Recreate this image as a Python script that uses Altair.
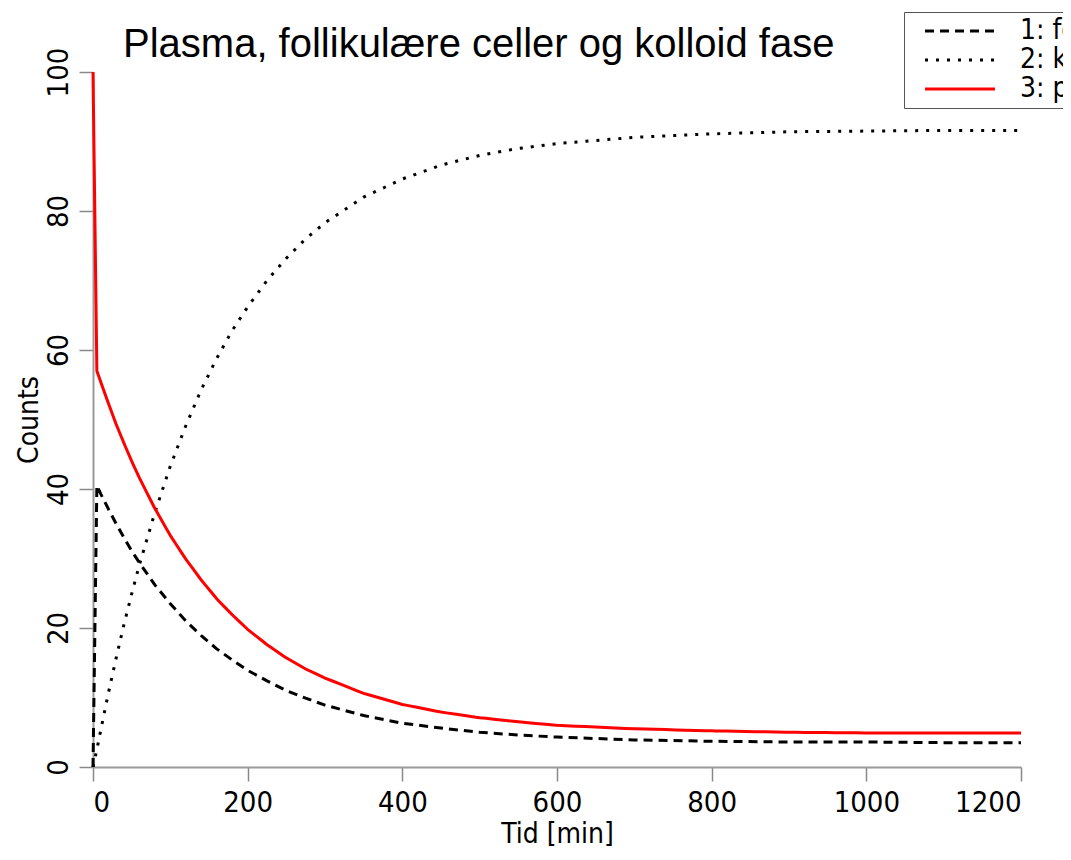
import altair as alt
import pandas as pd

# time points [min]
tid = [0, 5, 10, 20, 30, 40, 50, 60, 80, 100, 120, 140, 160, 180, 200, 225, 250,
       275, 300, 350, 400, 450, 500, 550, 600, 700, 800, 900, 1000, 1100, 1200]
# 1: follikulære celler (dashed)
follikulaere = [0, 40.5, 39.3, 37.1, 35.0, 33.0, 31.1, 29.4, 26.2, 23.5, 21.0, 18.9, 17.0,
                15.4, 13.9, 12.4, 11.0, 9.9, 8.9, 7.4, 6.3, 5.6, 5.0, 4.6, 4.3, 3.9, 3.7,
                3.6, 3.6, 3.5, 3.5]
# 2: kolloid fase (dotted)
kolloid = [0, 2.5, 5.3, 10.7, 15.7, 20.5, 24.9, 29.1, 36.6, 43.3, 49.1, 54.3, 58.8, 62.8,
           66.2, 70.0, 73.2, 76.0, 78.3, 82.0, 84.6, 86.6, 88.0, 89.0, 89.7, 90.6, 91.1,
           91.4, 91.5, 91.6, 91.6]
# 3: plasma (red)
plasma = [100, 57.0, 55.4, 52.3, 49.3, 46.6, 44.0, 41.6, 37.2, 33.3, 29.9, 26.9, 24.2,
          21.9, 19.8, 17.6, 15.7, 14.1, 12.8, 10.6, 9.0, 7.9, 7.1, 6.5, 6.0, 5.5, 5.2,
          5.0, 4.9, 4.9, 4.9]

series_names = ["1: follikulære celler", "2: kolloid fase", "3: plasma"]
series_values = [follikulaere, kolloid, plasma]
series_colors = ["black", "black", "red"]
series_dash = [[9, 6], [3, 8], [10, 0]]

title_text = ["Plasma, follikulære celler og kolloid fase"]
x_ticks = [0, 200, 400, 600, 800, 1000, 1200]
y_ticks = [0, 20, 40, 60, 80, 100]

rows = []
for name, vals in zip(series_names, series_values):
    for t, v in zip(tid, vals):
        rows.append({"Tid": t, "Counts": v, "serie": name})
df = pd.DataFrame(rows)

label_font = "DejaVu Sans Condensed, DejaVu Sans"

lines = alt.Chart(df).mark_line(strokeWidth=3).encode(
    x=alt.X("Tid:Q", title="Tid [min]",
            scale=alt.Scale(domain=[0, 1200], nice=False),
            axis=alt.Axis(values=x_ticks, format="d", titleBaseline="alphabetic",
                          titleY=75)),
    y=alt.Y("Counts:Q", title="Counts",
            scale=alt.Scale(domain=[0, 100], nice=False),
            axis=alt.Axis(values=y_ticks, labelAngle=-90,
                          labelAlign="center", labelBaseline="bottom",
                          titlePadding=1)),
    color=alt.Color("serie:N", scale=alt.Scale(domain=series_names, range=series_colors),
                    legend=alt.Legend(title=None, orient="none", legendX=811, legendY=-60,
                                      symbolType="M-4,0H4", symbolSize=306,
                                      symbolStrokeWidth=3, labelFontSize=28,
                                      labelFont=label_font, labelColor="black",
                                      strokeColor="#555", fillColor="white",
                                      padding=5, rowPadding=1, symbolOffset=37,
                                      labelOffset=46, labelLimit=400)),
    strokeDash=alt.StrokeDash("serie:N", scale=alt.Scale(domain=series_names, range=series_dash),
                              legend=None),
    detail="serie:N",
)

title = alt.Chart(pd.DataFrame({"titel": title_text})).mark_text(
    align="left", baseline="alphabetic", font="Liberation Sans", fontSize=40,
    color="black"
).encode(
    text="titel:N",
    x=alt.value(30),
    y=alt.value(-15),
)

chart = alt.layer(lines, title).properties(
    width=928,
    height=695,
    autosize=alt.AutoSizeParams(type="none"),
    padding={"left": 85, "top": 64, "right": 42, "bottom": 80},
).configure_view(
    stroke=None
).configure_axis(
    grid=False,
    domainColor="#999999",
    domainWidth=2,
    tickColor="#888888",
    tickWidth=1.5,
    tickSize=14,
    labelFont=label_font,
    labelFontSize=29,
    labelColor="black",
    labelPadding=6,
    titleFont=label_font,
    titleFontSize=28,
    titleFontWeight="normal",
    titleColor="black",
).configure_axisX(
    labelPadding=7,
)

chart.save("out.html", embed_options={"renderer": "svg", "actions": False})
